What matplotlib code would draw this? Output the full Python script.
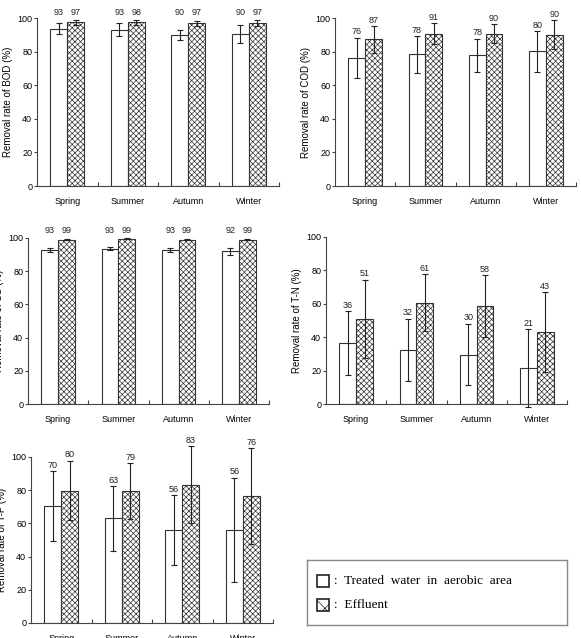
import numpy as np
import matplotlib
matplotlib.use("Agg")
import matplotlib.pyplot as plt
from matplotlib.patches import Rectangle

plt.rcParams['font.family'] = ['Liberation Sans', 'DejaVu Sans']
plt.rcParams['hatch.linewidth'] = 0.5

# --- data ---
seasons = ["Spring", "Summer", "Autumn", "Winter"]

bod_treated = [93.5, 93, 90, 90.5]
bod_treated_err = [3.3, 4, 3, 5.5]
bod_effluent = [97.5, 97.5, 97, 97]
bod_effluent_err = [1.5, 1.5, 1.5, 2]
bod_labels = ([93, 93, 90, 90], [97, 98, 97, 97])

cod_treated = [76.3, 78.3, 77.7, 80.1]
cod_treated_err = [12, 11, 10, 12]
cod_effluent = [87.3, 90.7, 90.7, 90]
cod_effluent_err = [8, 6.3, 5.7, 8.7]
cod_labels = ([76, 78, 78, 80], [87, 91, 90, 90])

ss_treated = [93, 93.5, 93, 92]
ss_treated_err = [1.2, 1, 1.2, 2]
ss_effluent = [99, 99.5, 99, 99]
ss_effluent_err = [0.5, 0.3, 0.5, 0.5]
ss_labels = ([93, 93, 93, 92], [99, 99, 99, 99])

tn_treated = [36.4, 32.4, 29.6, 21.5]
tn_treated_err = [19, 18.7, 18.5, 23.5]
tn_effluent = [50.9, 60.6, 58.6, 42.9]
tn_effluent_err = [23.5, 17, 18.5, 24]
tn_labels = ([36, 32, 30, 21], [51, 61, 58, 43])

tp_treated = [70.4, 63, 56, 56]
tp_treated_err = [21, 19.5, 21, 31.5]
tp_effluent = [79.8, 79.4, 83.4, 76.4]
tp_effluent_err = [18, 17, 23, 29]
tp_labels = ([70, 63, 56, 56], [80, 79, 83, 76])

W, H = 581, 638
fig = plt.figure(figsize=(W / 100, H / 100), dpi=100)


def px_axes(left, top, right, bottom):
    return fig.add_axes([left / W, 1 - bottom / H, (right - left) / W, (bottom - top) / H])


def panel(ax, name, treated, t_err, effluent, e_err, labels, label_floor=0):
    x = np.arange(len(seasons))
    bw = 0.28
    ax.bar(x - bw / 2, treated, bw, color="white", edgecolor="#333333", linewidth=0.8)
    ax.bar(x + bw / 2, effluent, bw, color="white", edgecolor="#333333", linewidth=0.8,
           hatch="xxxxxx")
    ax.errorbar(x - bw / 2, treated, yerr=t_err, fmt="none", ecolor="#222222",
                elinewidth=0.8, capsize=2, capthick=0.8, clip_on=False)
    ax.errorbar(x + bw / 2, effluent, yerr=e_err, fmt="none", ecolor="#222222",
                elinewidth=0.8, capsize=2, capthick=0.8, clip_on=False)
    for xs, vals, errs, labs in [(x - bw / 2, treated, t_err, labels[0]),
                                 (x + bw / 2, effluent, e_err, labels[1])]:
        for xi, v, e, lab in zip(xs, vals, errs, labs):
            ax.text(xi, max(v + e + 3.5, label_floor), str(lab), ha="center", va="center",
                    fontsize=6.5, color="#222222")
    ax.set_xlim(-0.5, 3.5)
    ax.set_ylim(0, 100)
    ax.set_yticks(range(0, 101, 20))
    ax.set_xticks(x)
    ax.set_xticklabels(seasons)
    ax.set_xticks([0.5, 1.5, 2.5, 3.5], minor=True)
    ax.tick_params(axis="x", which="major", length=0, pad=8, labelsize=6.5)
    ax.tick_params(axis="x", which="minor", direction="in", length=3, width=0.8,
                   color="#444444")
    ax.tick_params(axis="y", length=2.5, width=0.8, labelsize=6.5, color="#444444", pad=1)
    for s in ["top", "right"]:
        ax.spines[s].set_visible(False)
    for s in ["left", "bottom"]:
        ax.spines[s].set_color("#444444")
        ax.spines[s].set_linewidth(0.8)
    ax.set_ylabel(f"Removal rate of {name} (%)", fontsize=7)
    ax.yaxis.set_label_coords(-0.1, 0.5)


ax1 = px_axes(37, 18, 279, 186)
panel(ax1, "BOD", bod_treated, bod_treated_err, bod_effluent, bod_effluent_err, bod_labels, 103)
ax2 = px_axes(335, 18, 576, 186)
panel(ax2, "COD", cod_treated, cod_treated_err, cod_effluent, cod_effluent_err, cod_labels)
ax3 = px_axes(28, 238, 269, 404)
panel(ax3, "SS", ss_treated, ss_treated_err, ss_effluent, ss_effluent_err, ss_labels, 104.5)
ax4 = px_axes(326, 237, 567, 404)
panel(ax4, "T-N", tn_treated, tn_treated_err, tn_effluent, tn_effluent_err, tn_labels)
ax5 = px_axes(31, 457, 273, 623)
panel(ax5, "T-P", tp_treated, tp_treated_err, tp_effluent, tp_effluent_err, tp_labels)

# --- legend box ---
leg = px_axes(307, 560, 567, 625)
leg.set_xlim(0, 260)
leg.set_ylim(65, 0)
leg.set_xticks([])
leg.set_yticks([])
for s in leg.spines.values():
    s.set_color("#888888")
    s.set_linewidth(1)
leg.add_patch(Rectangle((10, 15), 12, 12, facecolor="white", edgecolor="#222222", lw=1.2))
leg.add_patch(Rectangle((10, 39), 12, 12, facecolor="white", edgecolor="#222222", lw=1.2,
                        hatch="xx"))
leg.text(27, 21, ":  Treated  water  in  aerobic  area", fontsize=9.5, va="center",
         family=["Liberation Serif", "DejaVu Serif"])
leg.text(27, 45, ":  Effluent", fontsize=9.5, va="center",
         family=["Liberation Serif", "DejaVu Serif"])

fig.savefig("out.png", dpi=100)
